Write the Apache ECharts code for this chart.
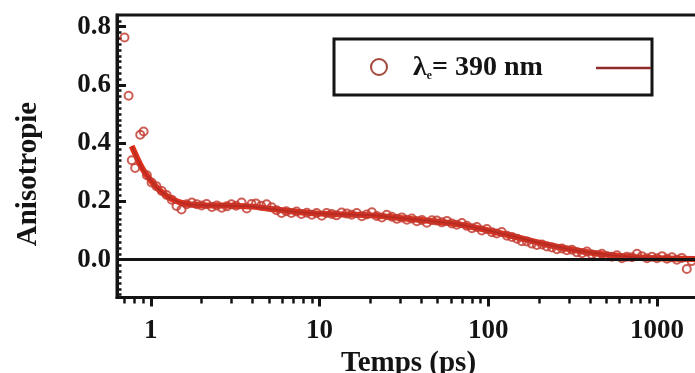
<!DOCTYPE html>
<html><head><meta charset="utf-8">
<script src="https://cdn.jsdelivr.net/npm/echarts@6/dist/echarts.min.js"></script>
<style>html,body{margin:0;padding:0;background:#fff}#c{width:695px;height:373px}</style>
</head><body><div id="c"></div>
<script>
// Measured data (time in ps, anisotropy)
const times = [
  0.698, 0.738, 0.771, 0.807, 0.865, 0.906, 0.947, 1.01, 1.08, 1.16,
  1.24, 1.33, 1.42, 1.52, 1.63, 1.75, 1.87, 2.0, 2.14, 2.3,
  2.46, 2.63, 2.82, 3.0, 3.2, 3.45, 3.7, 3.95, 4.2, 4.5,
  4.85, 5.2, 5.55, 5.95, 6.35, 6.8, 7.3, 7.8, 8.4, 9.0,
  9.6, 10.3, 11, 11.8, 12.6, 13.5, 14.5, 15.5, 16.6, 17.8,
  19, 20.4, 21.8, 23.4, 25, 26.8, 28.7, 30.7, 32.9, 35.2,
  37.7, 40.4, 43.2, 46.3, 49.5, 53, 56.8, 60.8, 65, 69.7,
  74.6, 80, 85.5, 91.5, 98, 105, 112, 120, 129, 138,
  148, 158, 169, 181, 194, 208, 222, 238, 255, 273,
  292, 313, 335, 359, 384, 411, 440, 471, 505, 540,
  578, 619, 663, 710, 760, 813, 871, 932, 998, 1070,
  1145, 1225, 1310, 1400, 1500, 1600
];
const anisotropy = [
  0.763, 0.563, 0.341, 0.315, 0.429, 0.440, 0.290, 0.265, 0.252, 0.236,
  0.222, 0.206, 0.184, 0.172, 0.190, 0.196, 0.190, 0.186, 0.191, 0.181,
  0.186, 0.178, 0.183, 0.190, 0.185, 0.196, 0.176, 0.191, 0.193, 0.185,
  0.190, 0.180, 0.170, 0.160, 0.166, 0.160, 0.165, 0.157, 0.161, 0.154,
  0.160, 0.151, 0.160, 0.157, 0.152, 0.162, 0.158, 0.154, 0.160, 0.149,
  0.155, 0.163, 0.150, 0.145, 0.154, 0.147, 0.140, 0.145, 0.137, 0.141,
  0.132, 0.136, 0.127, 0.135, 0.134, 0.128, 0.133, 0.124, 0.120, 0.126,
  0.116, 0.108, 0.112, 0.100, 0.105, 0.094, 0.090, 0.095, 0.082, 0.078,
  0.072, 0.063, 0.062, 0.055, 0.050, 0.052, 0.045, 0.042, 0.036, 0.038,
  0.032, 0.034, 0.025, 0.022, 0.028, 0.018, 0.015, 0.020, 0.012, 0.010,
  0.015, 0.005, 0.010, 0.008, 0.020, 0.012, 0.005, 0.010, 0.005, 0.012,
  0.003, 0.008, 0.000, 0.006, -0.032, -0.005
];
// Fit curve
const fitTimes = [0.77, 0.82, 0.88, 0.95, 1.03, 1.12, 1.25, 1.4, 1.6, 1.85, 2.2, 3, 4, 5.5, 7, 10, 15, 20, 30, 50, 70, 100, 150, 200, 300, 450, 700, 1000, 1700];
const fitValues = [0.390, 0.355, 0.318, 0.288, 0.262, 0.240, 0.218, 0.202, 0.192, 0.188, 0.186, 0.185, 0.182, 0.172, 0.165, 0.158, 0.155, 0.152, 0.143, 0.130, 0.119, 0.100, 0.076, 0.058, 0.036, 0.020, 0.009, 0.005, 0.002];

const xMajorTicks = [1, 10, 100, 1000];
const xMinorTicks = [0.7, 0.8, 0.9, 2, 3, 4, 5, 6, 7, 8, 9, 20, 30, 40, 50, 60, 70, 80, 90, 200, 300, 400, 500, 600, 700, 800, 900];
const yMajorTicks = [0, 0.2, 0.4, 0.6, 0.8];
const yMinorTicks = [];
for (let k = -6; k <= 41; k++) yMinorTicks.push(+(k * 0.02).toFixed(2));

const xTitle = 'Temps (ps)';
const yTitle = 'Anisotropie';

const FONT = "'Liberation Serif','Times New Roman',serif";
const INK = '#141414';

const chart = echarts.init(document.getElementById('c'), null, {renderer: 'canvas'});

const xBase = {type: 'log', logBase: 10, min: 0.63, max: 1796, gridIndex: 0, position: 'bottom', splitLine: {show: false}};
const yBase = {type: 'value', min: -0.13, max: 0.84, gridIndex: 0, position: 'left', splitLine: {show: false}};

chart.setOption({
  animation: false,
  backgroundColor: '#fff',
  grid: {left: 117, top: 15, right: -5, bottom: 75.5, show: true, borderColor: INK, borderWidth: 3,
    backgroundColor: 'transparent', containLabel: false, outerBoundsMode: 'none'},
  xAxis: [
    Object.assign({}, xBase, {
      axisLine: {show: true, onZero: false, lineStyle: {color: INK, width: 3}},
      axisTick: {show: true, inside: false, length: 9, lineStyle: {color: INK, width: 3}, customValues: xMajorTicks},
      axisLabel: {show: true, margin: 20, color: INK, fontFamily: FONT, fontWeight: 'bold', fontSize: 27, customValues: xMajorTicks,
        formatter: v => String(Math.round(v))},
      name: xTitle, nameLocation: 'middle', nameGap: 51,
      nameTextStyle: {color: INK, fontFamily: FONT, fontWeight: 'bold', fontSize: 29}
    }),
    Object.assign({}, xBase, {
      axisLine: {show: false, onZero: false},
      axisTick: {show: true, inside: false, length: 6, lineStyle: {color: INK, width: 2.5}, customValues: xMinorTicks},
      axisLabel: {show: false}
    })
  ],
  yAxis: [
    Object.assign({}, yBase, {
      axisLine: {show: true, onZero: false, lineStyle: {color: INK, width: 3}},
      axisTick: {show: true, inside: true, length: 9, lineStyle: {color: INK, width: 3}, customValues: yMajorTicks},
      axisLabel: {show: true, margin: 6, color: INK, fontFamily: FONT, fontWeight: 'bold', fontSize: 27, customValues: yMajorTicks,
        formatter: v => v.toFixed(1)}
    }),
    Object.assign({}, yBase, {
      axisLine: {show: false, onZero: false},
      axisTick: {show: true, inside: true, length: 4.5, lineStyle: {color: INK, width: 2.5}, customValues: yMinorTicks},
      axisLabel: {show: false}
    })
  ],
  graphic: [
    {type: 'text', x: 29, y: 174, rotation: Math.PI / 2,
      style: {text: yTitle, fill: INK, font: "bold 29px 'Liberation Serif','Times New Roman',serif", align: 'center', verticalAlign: 'middle'}},
    {type: 'rect', shape: {x: 334, y: 39, width: 318, height: 56}, style: {fill: '#fff', stroke: INK, lineWidth: 3}, z: 100},
    {type: 'circle', shape: {cx: 379, cy: 67, r: 8}, style: {fill: 'rgba(255,255,255,0)', stroke: '#a5483c', lineWidth: 2}, z: 101},
    {type: 'text', x: 413, y: 68, z: 101,
      style: {
        text: '{a|λ}{s|ₑ}{a|= 390 nm}',
        verticalAlign: 'middle',
        rich: {
          a: {fontFamily: FONT, fontWeight: 'bold', fontSize: 28, fill: INK, color: INK},
          s: {fontFamily: FONT, fontWeight: 'bold', fontSize: 20, fill: INK, color: INK, verticalAlign: 'bottom'}
        }
      }},
    {type: 'line', shape: {x1: 596, y1: 68, x2: 651, y2: 68}, style: {stroke: '#8e2b2b', lineWidth: 2.5}, z: 101}
  ],
  series: [
    {
      type: 'line', xAxisIndex: 0, yAxisIndex: 0, z: 2,
      data: fitTimes.map((t, i) => [t, fitValues[i]]),
      showSymbol: false, smooth: true,
      lineStyle: {color: '#e0301c', width: 6},
      markLine: {silent: true, symbol: 'none', label: {show: false},
        lineStyle: {color: INK, width: 3, type: 'solid'},
        data: [{yAxis: 0}]}
    },
    {
      type: 'scatter', xAxisIndex: 0, yAxisIndex: 0, z: 3,
      data: times.map((t, i) => [t, anisotropy[i]]),
      symbol: 'circle', symbolSize: 8,
      itemStyle: {color: 'rgba(255,255,255,0)', borderColor: '#c0362a', borderWidth: 2}
    },
    {
      type: 'line', xAxisIndex: 0, yAxisIndex: 0, z: 4,
      data: fitTimes.map((t, i) => [t, fitValues[i]]),
      showSymbol: false, smooth: true,
      lineStyle: {color: '#b42a22', width: 1.5}
    }
  ]
});
</script>
</body></html>
